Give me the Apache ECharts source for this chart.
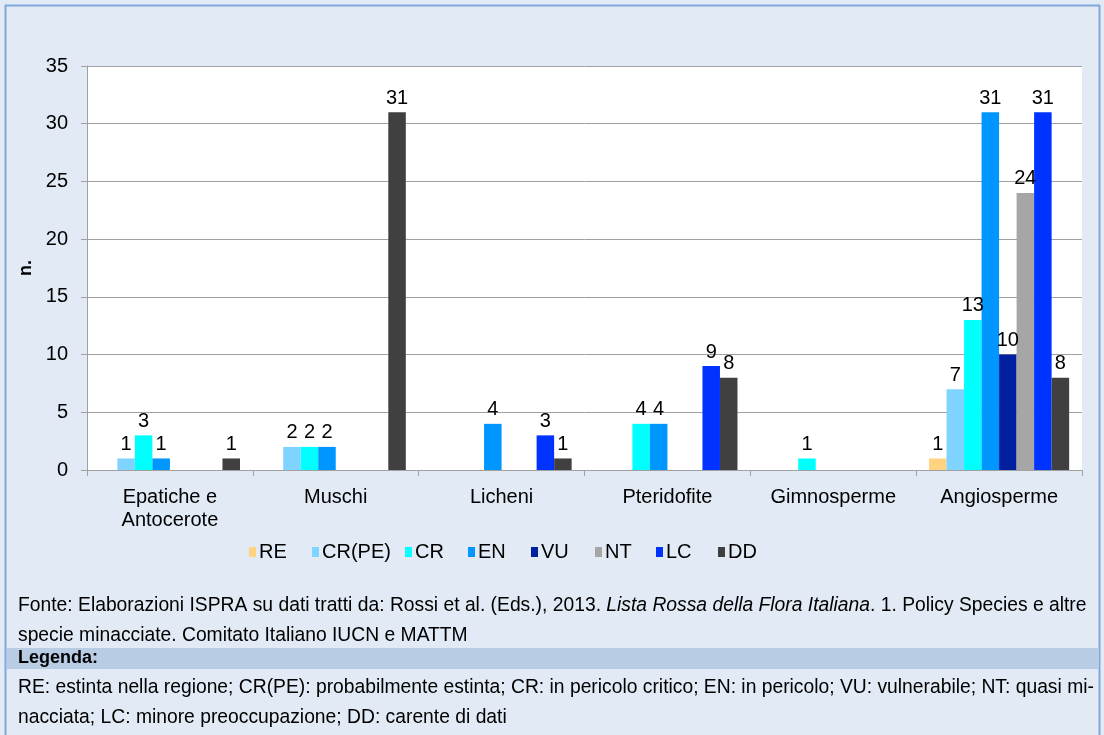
<!DOCTYPE html>
<html>
<head>
<meta charset="utf-8">
<script src="https://cdn.jsdelivr.net/npm/echarts@6/dist/echarts.min.js"></script>
<style>
  html, body { margin: 0; padding: 0; background: #e2eaf5; }
  #chart { width: 1104px; height: 735px; }
</style>
</head>
<body>
<div id="chart"></div>
<script>
const categories = [ 'Epatiche e\nAntocerote', 'Muschi', 'Licheni', 'Pteridofite', 'Gimnosperme', 'Angiosperme' ];
const seriesNames = [ 'RE', 'CR(PE)', 'CR', 'EN', 'VU', 'NT', 'LC', 'DD' ];
const valRE = [ null, null, null, null, null, 1 ];
const valCRPE = [ 1, 2, null, null, null, 7 ];
const valCR = [ 3, 2, null, 4, 1, 13 ];
const valEN = [ 1, 2, 4, 4, null, 31 ];
const valVU = [ null, null, null, null, null, 10 ];
const valNT = [ null, null, null, null, null, 24 ];
const valLC = [ null, null, 3, 9, null, 31 ];
const valDD = [ 1, 31, 1, 8, null, 8 ];
const colors = [ '#ffd37f', '#7fd4ff', '#00ffff', '#0096ff', '#0020a0', '#a6a6a6', '#0033ff', '#404040' ];
// legend entries sit at fixed x positions, like in the original
const legendLeft = [ 249, 312, 405, 468, 531, 595, 656, 718 ];

const fontMain = 'Liberation Sans, Arial, sans-serif';

( function ()
{
  let myChart = echarts.init( document.getElementById( 'chart' ) );
  let allValues = [ valRE, valCRPE, valCR, valEN, valVU, valNT, valLC, valDD ];

  let series = seriesNames.map( function ( name, i )
  {
    return {
      name: name,
      type: 'bar',
      data: allValues[ i ],
      barGap: '0%',
      barCategoryGap: '15.5%',
      itemStyle: { color: colors[ i ] },
      label: {
        show: true,
        position: 'top',
        distance: 4,
        color: '#000',
        fontSize: 20,
        fontFamily: fontMain
      }
    };
  } );

  let legends = seriesNames.map( function ( name, i )
  {
    return {
      data: [ name ],
      left: legendLeft[ i ],
      top: 542,
      itemWidth: 7,
      itemHeight: 10,
      itemGap: 0,
      icon: 'rect',
      selectedMode: false,
      padding: 0,
      textStyle: {
        fontSize: 20,
        color: '#000',
        fontFamily: fontMain,
        padding: [ 0, 0, 0, -2 ]
      }
    };
  } );

  let footStyle = { fontSize: 19.3, fontFamily: fontMain, fill: '#000' };

  let option = {
    backgroundColor: '#e2eaf5',
    animation: false,
    color: colors,
    grid: {
      left: 87,
      right: 22,
      top: 66,
      bottom: 265,
      show: true,
      backgroundColor: '#ffffff',
      borderWidth: 0
    },
    legend: legends,
    xAxis: {
      type: 'category',
      data: categories,
      axisLine: { lineStyle: { color: '#a0a0a0' } },
      axisTick: { show: true, length: 6, lineStyle: { color: '#a0a0a0' } },
      axisLabel: {
        color: '#000',
        fontSize: 20,
        fontFamily: fontMain,
        margin: 16,
        lineHeight: 23
      }
    },
    yAxis: {
      type: 'value',
      min: 0,
      max: 35,
      interval: 5,
      name: 'n.',
      nameLocation: 'middle',
      nameGap: 42,
      nameRotate: 90,
      nameTextStyle: { color: '#000', fontSize: 18, fontWeight: 'bold', fontFamily: fontMain },
      axisLine: { show: true, lineStyle: { color: '#a0a0a0' } },
      axisTick: { show: true, length: 6, lineStyle: { color: '#a0a0a0' } },
      axisLabel: { color: '#000', fontSize: 20, fontFamily: fontMain, margin: 19 },
      splitLine: { lineStyle: { color: '#a0a0a0' } }
    },
    graphic: [
      // outer frame
      { type: 'line', shape: { x1: 5.5, y1: 5, x2: 5.5, y2: 735 }, style: { stroke: '#7fa7dc', lineWidth: 2 } },
      { type: 'line', shape: { x1: 5, y1: 5.5, x2: 1100, y2: 5.5 }, style: { stroke: '#7fa7dc', lineWidth: 2 } },
      { type: 'line', shape: { x1: 1099.5, y1: 5, x2: 1099.5, y2: 735 }, style: { stroke: '#7fa7dc', lineWidth: 2 } },
      // legenda band
      { type: 'rect', shape: { x: 7, y: 648, width: 1092, height: 21 }, style: { fill: '#b8cce4' } },
      {
        type: 'text', left: 18, top: 596,
        style: {
          rich: {
            n: footStyle,
            i: { fontSize: 19.3, fontFamily: fontMain, fontStyle: 'italic', fill: '#000' }
          },
          text: '{n|Fonte: Elaborazioni ISPRA su dati tratti da: Rossi et al. (Eds.), 2013. }{i|Lista Rossa della Flora Italiana}{n|. 1. Policy Species e altre}'
        }
      },
      {
        type: 'text', left: 18, top: 626,
        style: Object.assign( { text: 'specie minacciate. Comitato Italiano IUCN e MATTM' }, footStyle )
      },
      {
        type: 'text', left: 18, top: 649,
        style: { text: 'Legenda:', fontSize: 18, fontWeight: 'bold', fontFamily: fontMain, fill: '#000' }
      },
      {
        type: 'text', left: 18, top: 678,
        style: Object.assign( { text: 'RE: estinta nella regione; CR(PE): probabilmente estinta; CR: in pericolo critico; EN: in pericolo; VU: vulnerabile; NT: quasi mi-' }, footStyle )
      },
      {
        type: 'text', left: 18, top: 708,
        style: Object.assign( { text: 'nacciata; LC: minore preoccupazione; DD: carente di dati' }, footStyle )
      }
    ],
    series: series
  };
  myChart.setOption( option );
  window.addEventListener( 'resize', function ()
  {
    myChart.resize();
  } );
} )();
</script>
</body>
</html>
